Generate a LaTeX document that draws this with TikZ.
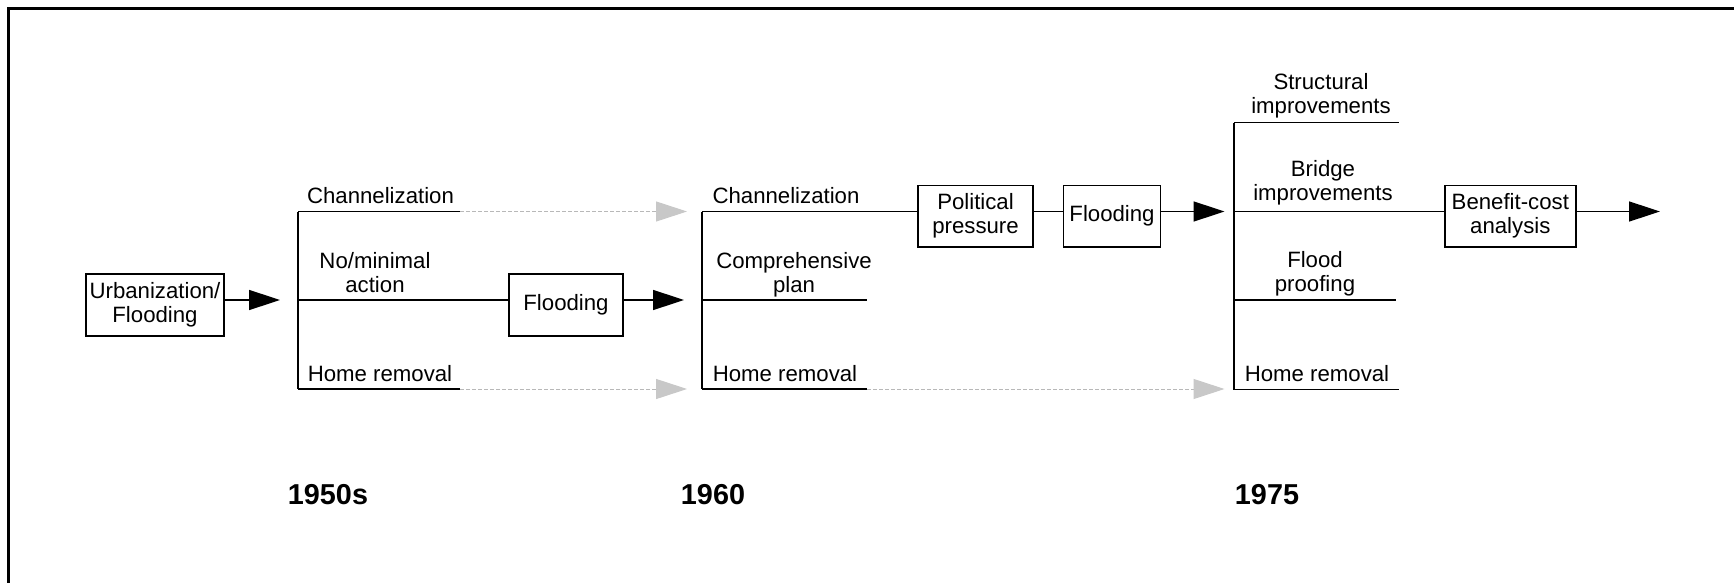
\documentclass[tikz,border=0pt]{standalone}
\usepackage{fontspec}
\setmainfont{Liberation Sans}
\usetikzlibrary{arrows.meta}
\definecolor{dashgray}{HTML}{B8B8B8}
\definecolor{tipgray}{HTML}{C8C8C8}
\newcommand\lblfont{\fontsize{11.1}{12}\selectfont}
\newcommand\yrfont{\fontsize{14.4}{16}\selectfont\bfseries}
\begin{document}
\begin{tikzpicture}[x=0.5pt,y=-0.5pt,
  box/.style={draw,line width=0.75pt,inner sep=0pt,align=center,font=\lblfont},
  lbl/.style={anchor=south,inner sep=0pt,text depth=0pt,align=center,font=\lblfont},
  yr/.style={anchor=base,inner sep=0pt,font=\yrfont},
  ln/.style={line width=0.75pt},
  arr/.style={line width=0.75pt,-{Triangle[length=15.5pt,width=10pt]}},
  garr/.style={line width=0.5pt,dashgray,dash pattern=on 2pt off 1pt,-{Triangle[length=15.5pt,width=10pt,color=tipgray]}}]
\useasboundingbox (0,0) rectangle (1734,583);
\fill[white] (0,0) rectangle (1734,583);
% frame (left and top edges)
\draw[line width=1.65pt] (8.4,583) -- (8.4,8.4) -- (1734,8.4);

% boxes
\node[box,minimum width=69pt,minimum height=31pt] (urb) at (155,305) {Urbanization/\\Flooding};
\node[box,minimum width=57pt,minimum height=31pt] (fl1) at (566,305) {Flooding};
\node[box,minimum width=57.5pt,minimum height=30.75pt] (pol) at (975.5,216) {Political\\pressure};
\node[box,minimum width=48.5pt,minimum height=30.75pt] (fl2) at (1112,216) {Flooding};
\node[box,minimum width=65.5pt,minimum height=30.75pt] (bca) at (1510.3,216) {Benefit-cost\\analysis};

% labels
\node[lbl] (c1) at (380.5,204) {Channelization};
\node[lbl] (n1) at (375,292.5) {No/minimal\\action};
\node[lbl] (h1) at (380,382) {Home removal};
\node[lbl] (c2) at (786,204) {Channelization};
\node[lbl] (cp) at (794,293) {Comprehensive\\plan};
\node[lbl] (h2) at (785,382) {Home removal};
\node[lbl] (si) at (1321,114) {Structural\\improvements};
\node[lbl] (bi) at (1323,201) {Bridge\\improvements};
\node[lbl] (fp) at (1315,292) {Flood\\proofing};
\node[lbl] (h3) at (1317,382) {Home removal};

% years
\node[yr] (y1) at (328,504) {1950s};
\node[yr] (y2) at (713,504) {1960};
\node[yr] (y3) at (1267,504) {1975};

% branch points and free ends
\coordinate (b1t) at (298,211.5);
\coordinate (b1m) at (298,300);
\coordinate (b1b) at (298,389);
\coordinate (e1t) at (460,211.5);
\coordinate (e1b) at (460,389);
\coordinate (a0) at (280,300);
\coordinate (a1) at (684,300);
\coordinate (g1t) at (687,211.5);
\coordinate (g1b) at (687,389);

\coordinate (b2t) at (702,211.5);
\coordinate (b2m) at (702,300);
\coordinate (b2b) at (702,389);
\coordinate (e2m) at (867,300);
\coordinate (e2b) at (867,389);
\coordinate (a2) at (1224.5,211.5);
\coordinate (g2b) at (1224.5,389);

\coordinate (b3s) at (1234,122.7);
\coordinate (b3t) at (1234,211.5);
\coordinate (b3m) at (1234,300);
\coordinate (b3b) at (1234,389.5);
\coordinate (e3s) at (1399,122.7);
\coordinate (e3m) at (1396,300);
\coordinate (e3b) at (1399,389.5);
\coordinate (a3) at (1660,211.5);

% 1950s
\draw[arr] (urb.east |- a0) -- (a0);
\draw[ln] (b1t) -- (b1b);
\draw[ln] (b1t) -- (e1t);
\draw[ln] (b1m) -- (fl1.west |- b1m);
\draw[ln] (b1b) -- (e1b);
\draw[garr] (e1t) -- (g1t);
\draw[garr] (e1b) -- (g1b);
\draw[arr] (fl1.east |- a1) -- (a1);

% 1960
\draw[ln] (b2t) -- (b2b);
\draw[ln] (b2t) -- (pol.west |- b2t);
\draw[ln] (pol.east |- b2t) -- (fl2.west |- b2t);
\draw[arr] (fl2.east |- a2) -- (a2);
\draw[ln] (b2m) -- (e2m);
\draw[ln] (b2b) -- (e2b);
\draw[garr] (e2b) -- (g2b);

% 1975
\draw[ln] (b3s) -- (b3b);
\draw[ln] (b3s) -- (e3s);
\draw[ln] (b3t) -- (bca.west |- b3t);
\draw[ln] (b3m) -- (e3m);
\draw[ln] (b3b) -- (e3b);
\draw[arr] (bca.east |- a3) -- (a3);
\end{tikzpicture}
\end{document}
